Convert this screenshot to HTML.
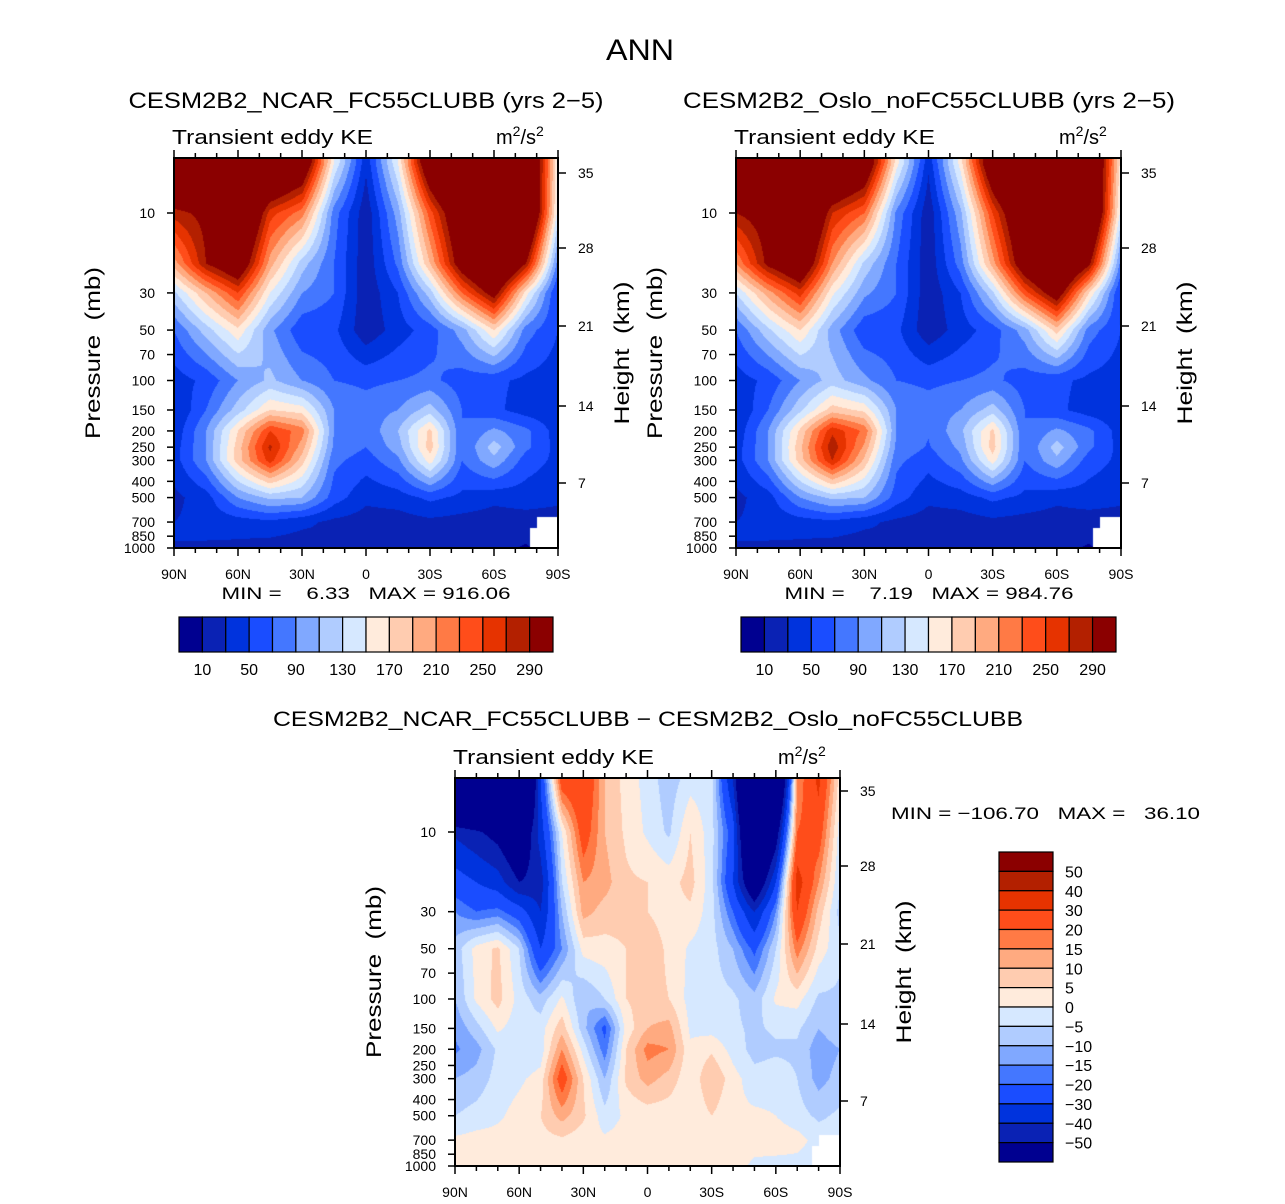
<!DOCTYPE html>
<html><head><meta charset="utf-8">
<style>
body{margin:0;background:#fff;}
#wrap{position:relative;width:1285px;height:1204px;overflow:hidden;background:#fff;font-family:"Liberation Sans",sans-serif;}
canvas{position:absolute;}
svg{position:absolute;left:0;top:0;}
svg text{font-family:"Liberation Sans",sans-serif;fill:#000;white-space:pre;}
</style></head>
<body>
<div id="wrap">
<canvas id="c1"></canvas>
<canvas id="c2"></canvas>
<canvas id="c3"></canvas>
<svg id="svg" width="1285" height="1204"></svg>
</div>
<script>
// ---------- data ----------
const latsTop = [90,75,60,45,30,15,0,-15,-30,-45,-60,-75,-90];
const levsTop = [5,10,20,30,50,100,150,200,250,300,500,700,1000];
const ncarGrid = [
 [400,400,450,400,350,150,35,150,350,450,450,400,150],
 [280,300,400,260,220,80,15,100,240,350,400,400,140],
 [200,290,340,200,120,70,15,75,190,320,400,290,80],
 [125,190,250,150,90,70,15,50,120,230,310,160,45],
 [70,120,165,95,55,55,15,40,60,100,170,80,50],
 [40,55,90,115,90,70,65,70,75,60,55,45,40],
 [28,70,120,170,160,90,80,90,120,70,55,40,35],
 [35,90,170,250,220,90,75,110,175,70,95,75,40],
 [40,90,180,275,200,85,70,100,180,70,120,75,42],
 [40,90,180,260,180,75,60,85,160,70,105,60,45],
 [25,40,90,115,110,60,35,40,55,45,35,40,35],
 [30,35,40,45,35,25,20,20,25,22,20,20,20],
 [30,28,25,20,18,30,15,15,12,20,15,8,20]
];
const osloGrid = [
 [400,400,450,400,350,160,35,160,350,450,450,400,160],
 [290,310,400,270,230,85,15,105,250,360,400,400,140],
 [210,300,350,210,125,70,15,80,200,330,400,300,80],
 [130,200,260,155,95,70,15,50,125,240,320,170,45],
 [70,125,170,100,55,55,15,40,60,100,180,80,50],
 [40,55,90,120,95,70,65,70,75,60,55,45,40],
 [28,70,125,180,165,90,80,90,120,70,55,40,35],
 [35,90,175,265,225,90,72,105,175,70,95,75,40],
 [40,90,185,285,205,85,68,95,180,70,120,75,42],
 [40,90,180,270,185,75,58,85,160,70,105,60,45],
 [25,40,90,115,110,60,35,40,55,45,35,40,35],
 [30,35,40,45,35,25,20,20,25,22,20,20,20],
 [30,28,25,20,18,30,15,15,12,20,15,8,20]
];
const latsDiff = [90,80,70,60,50,40,30,20,10,0,-10,-20,-30,-40,-50,-60,-70,-80,-90];
const levsDiff = [5,10,20,30,50,100,150,200,300,500,700,1000];
const diffGrid = [
 [-120,-120,-120,-120,-30,25,30,10,3,-2,-8,-2,-3,-40,-120,-100,15,32,2],
 [-42,-48,-55,-70,-35,0,25,10,4,-1,-6,5,-3,-25,-100,-60,20,25,-3],
 [-25,-30,-35,-50,-45,-5,15,12,6,5,3,7,-3,-30,-70,-30,35,15,-5],
 [-15,-20,-18,-25,-40,-10,12,8,7,5,3,4,-3,-20,-40,-15,30,8,-7],
 [-8,2,6,-5,-30,-15,2,3,5,8,4,-1,-3,-10,-22,-5,18,3,-4],
 [-10,1,7,-2,-8,1,-10,-5,5,7,5,-2,-3,-4,-8,1,2,-6,-6],
 [-14,-7,1,-3,-2,8,-8,-22,2,10,12,-1,-2,-4,-6,-4,-4,-10,-6],
 [-16,-12,-4,-5,-3,15,-2,-18,5,17,15,1,4,-2,-7,-6,-6,-13,-10],
 [-10,-8,-3,-1,2,25,5,-10,6,12,8,1,10,2,-3,-2,-5,-12,-8],
 [-5,-3,-1,2,5,12,6,-3,1,2,2,1,5,1,1,0,-3,-6,-4],
 [1,2,2,2,3,4,2,1,2,2,2,2,2,2,2,3,2,-2,-3],
 [2,4,3,2,3,2,3,2,2,1,2,2,2,2,-1,-2,-2,-3,-3]
];
const topLevels = [10,30,50,70,90,110,130,150,170,190,210,230,250,270,290];
const diffLevels = [-50,-40,-30,-20,-15,-10,-5,0,5,10,15,20,30,40,50];
const topTickLabels = [10,50,90,130,170,210,250,290];
const diffTickLabels = [50,40,30,20,15,10,5,0,-5,-10,-15,-20,-30,-40,-50];
const colors = ["#000090","#0a22b4","#0033dd","#1a4dff","#4477ff","#80a8ff","#b0ccff","#d6e8ff","#ffebdc","#ffccb0","#ffaa80","#ff7a45","#ff4d1a","#e63300","#b32000","#8b0000"];
const pTicks = [10,30,50,70,100,150,200,250,300,400,500,700,850,1000];
const xTickLabels = ["90N","60N","30N","0","30S","60S","90S"];
const hTicks = [[35,375],[28,300],[21,222],[14,142],[7,65]];

// ---------- helpers ----------
const NS="http://www.w3.org/2000/svg";
const svg=document.getElementById('svg');
function mk(tag,attrs,parent){const e=document.createElementNS(NS,tag);for(const k in attrs)e.setAttribute(k,attrs[k]);(parent||svg).appendChild(e);return e;}
function txt(x,y,s,size,anchor,name,extra){const t=mk('text',Object.assign({x:x,y:y,'font-size':size,'text-anchor':anchor||'start'},extra||{}));t.textContent=s;


return t;}
function wide(len){return {textLength:len,lengthAdjust:'spacingAndGlyphs'};}
function colorIdx(v,levels){let i=0;while(i<levels.length&&v>=levels[i])i++;return i;}
function interp(lats,levs,grid,lat,lp){
  const ll=levs.map(p=>Math.log10(p));
  let j=0;while(j<ll.length-2&&lp>ll[j+1])j++;
  let ty=(lp-ll[j])/(ll[j+1]-ll[j]);ty=Math.max(0,Math.min(1,ty));
  let i=0;while(i<lats.length-2&&lat<lats[i+1])i++;
  let tx=(lats[i]-lat)/(lats[i]-lats[i+1]);tx=Math.max(0,Math.min(1,tx));
  const a=grid[j][i],b=grid[j][i+1],c=grid[j+1][i],d=grid[j+1][i+1];
  return (a*(1-tx)+b*tx)*(1-ty)+(c*(1-tx)+d*tx)*ty;
}
function drawField(id,box,lats,levs,grid,levels){
  const cv=document.getElementById(id);
  const W=box.x1-box.x0,H=box.y1-box.y0;
  cv.width=W;cv.height=H;cv.style.left=box.x0+'px';cv.style.top=box.y0+'px';
  const ctx=cv.getContext('2d');const img=ctx.createImageData(W,H);
  const rgb=colors.map(c=>[parseInt(c.substr(1,2),16),parseInt(c.substr(3,2),16),parseInt(c.substr(5,2),16)]);
  for(let py=0;py<H;py++){
    const lp=3-(box.y1-(box.y0+py+0.5))/box.dec;
    const p=Math.pow(10,lp);
    for(let px=0;px<W;px++){
      const lat=90-180*(px+0.5)/W;
      let col;
      if((lat<-80&&p>650)||(lat<-77&&p>760)) col=[255,255,255];
      else col=rgb[colorIdx(interp(lats,levs,grid,lat,lp),levels)];
      const k=(py*W+px)*4;img.data[k]=col[0];img.data[k+1]=col[1];img.data[k+2]=col[2];img.data[k+3]=255;
    }
  }
  ctx.putImageData(img,0,0);
}
function drawAxes(box,pfx){
  const g=mk('g',{});
  
  
  mk('rect',{x:box.x0,y:box.y0,width:box.x1-box.x0,height:box.y1-box.y0,fill:'none',stroke:'#000','stroke-width':2},g);
  const W=box.x1-box.x0;
  for(let k=0;k<=18;k++){
    const x=box.x0+W*k/18;const L=(k%3==0)?8:5;
    mk('line',{x1:x,y1:box.y0,x2:x,y2:box.y0-L,stroke:'#000','stroke-width':1.5},g);
    mk('line',{x1:x,y1:box.y1,x2:x,y2:box.y1+L,stroke:'#000','stroke-width':1.5},g);
  }
  xTickLabels.forEach((s,k)=>txt(box.x0+W*k/6,box.y1+31,s,14,'middle',pfx+'-x-tick-label'));
  pTicks.forEach(p=>{const y=box.y1-(3-Math.log10(p))*box.dec;
    mk('line',{x1:box.x0,y1:y,x2:box.x0-7,y2:y,stroke:'#000','stroke-width':1.5},g);
    txt(box.x0-19,y+5,String(p),14,'end',pfx+'-pressure-tick-label');});
  hTicks.forEach(h=>{const y=box.y1-h[1];
    mk('line',{x1:box.x1,y1:y,x2:box.x1+8,y2:y,stroke:'#000','stroke-width':1.5},g);
    txt(box.x1+20,y+5,String(h[0]),14,'start',pfx+'-height-tick-label');});
  const ym=(box.y0+box.y1)/2;
  txt(0,0,'Pressure  (mb)',21,'middle',pfx+'-y-axis-title',Object.assign({transform:`translate(${box.x0-74},${ym}) rotate(-90)`},wide(172)));
  txt(0,0,'Height  (km)',21,'middle',pfx+'-right-axis-title',Object.assign({transform:`translate(${box.x1+71},${ym}) rotate(-90)`},wide(143)));
  txt(box.x0-2,box.y0-14,'Transient eddy KE',20,'start',pfx+'-variable-label',wide(201));
  const u=txt(box.x1-62,box.y0-14,'m',20,'start',pfx+'-units-label');
  u.innerHTML='m<tspan dy="-8" font-size="14">2</tspan><tspan dy="8">/s</tspan><tspan dy="-8" font-size="14">2</tspan>';
}
function hBar(x0,y0,w,h,pfx){
  const bw=w/16;
  for(let i=0;i<16;i++){const r=mk('rect',{x:x0+i*bw,y:y0,width:bw,height:h,fill:colors[i],stroke:'#000','stroke-width':1.2});
    
    }
  topTickLabels.forEach(v=>{const k=topLevels.indexOf(v)+1;txt(x0+k*bw,y0+h+23,String(v),16,'middle',pfx+'-colorbar-label');});
}
// ---------- panels ----------
const b1={x0:174,x1:558,y0:158,y1:548,dec:167.5};
const b2={x0:736,x1:1121,y0:158,y1:548,dec:167.5};
const b3={x0:455,x1:840,y0:778,y1:1166,dec:167};
drawField('c1',b1,latsTop,levsTop,ncarGrid,topLevels);
drawField('c2',b2,latsTop,levsTop,osloGrid,topLevels);
drawField('c3',b3,latsDiff,levsDiff,diffGrid,diffLevels);
drawAxes(b1,'ncar');drawAxes(b2,'oslo');drawAxes(b3,'diff');

txt(640,60,'ANN',30,'middle','figure-title',wide(68));
txt(366,108,'CESM2B2_NCAR_FC55CLUBB (yrs 2\u22125)',22,'middle','ncar-panel-title',wide(475));
txt(929,108,'CESM2B2_Oslo_noFC55CLUBB (yrs 2\u22125)',22,'middle','oslo-panel-title',wide(492));
txt(648,726,'CESM2B2_NCAR_FC55CLUBB \u2212 CESM2B2_Oslo_noFC55CLUBB',21,'middle','diff-panel-title',wide(750));
txt(366,599,'MIN =    6.33   MAX = 916.06',17,'middle','ncar-min-max',wide(289));
txt(929,599,'MIN =    7.19   MAX = 984.76',17,'middle','oslo-min-max',wide(289));
txt(891,819,'MIN = \u2212106.70   MAX =   36.10',17,'start','diff-min-max',wide(309));
hBar(179,617,374,35,'ncar');
hBar(741,617,375,35,'oslo');
// vertical diff colorbar
const vx=999,vy=852,vw=54,vh=310,bh=vh/16;
for(let i=0;i<16;i++){const r=mk('rect',{x:vx,y:vy+i*bh,width:vw,height:bh,fill:colors[15-i],stroke:'#000','stroke-width':1.2});
  
  }
diffTickLabels.forEach((v,k)=>txt(vx+vw+12,vy+(k+1)*bh+6,(v<0?'\u2212':'')+Math.abs(v),16,'start','diff-colorbar-label'));
</script>
</body></html>
